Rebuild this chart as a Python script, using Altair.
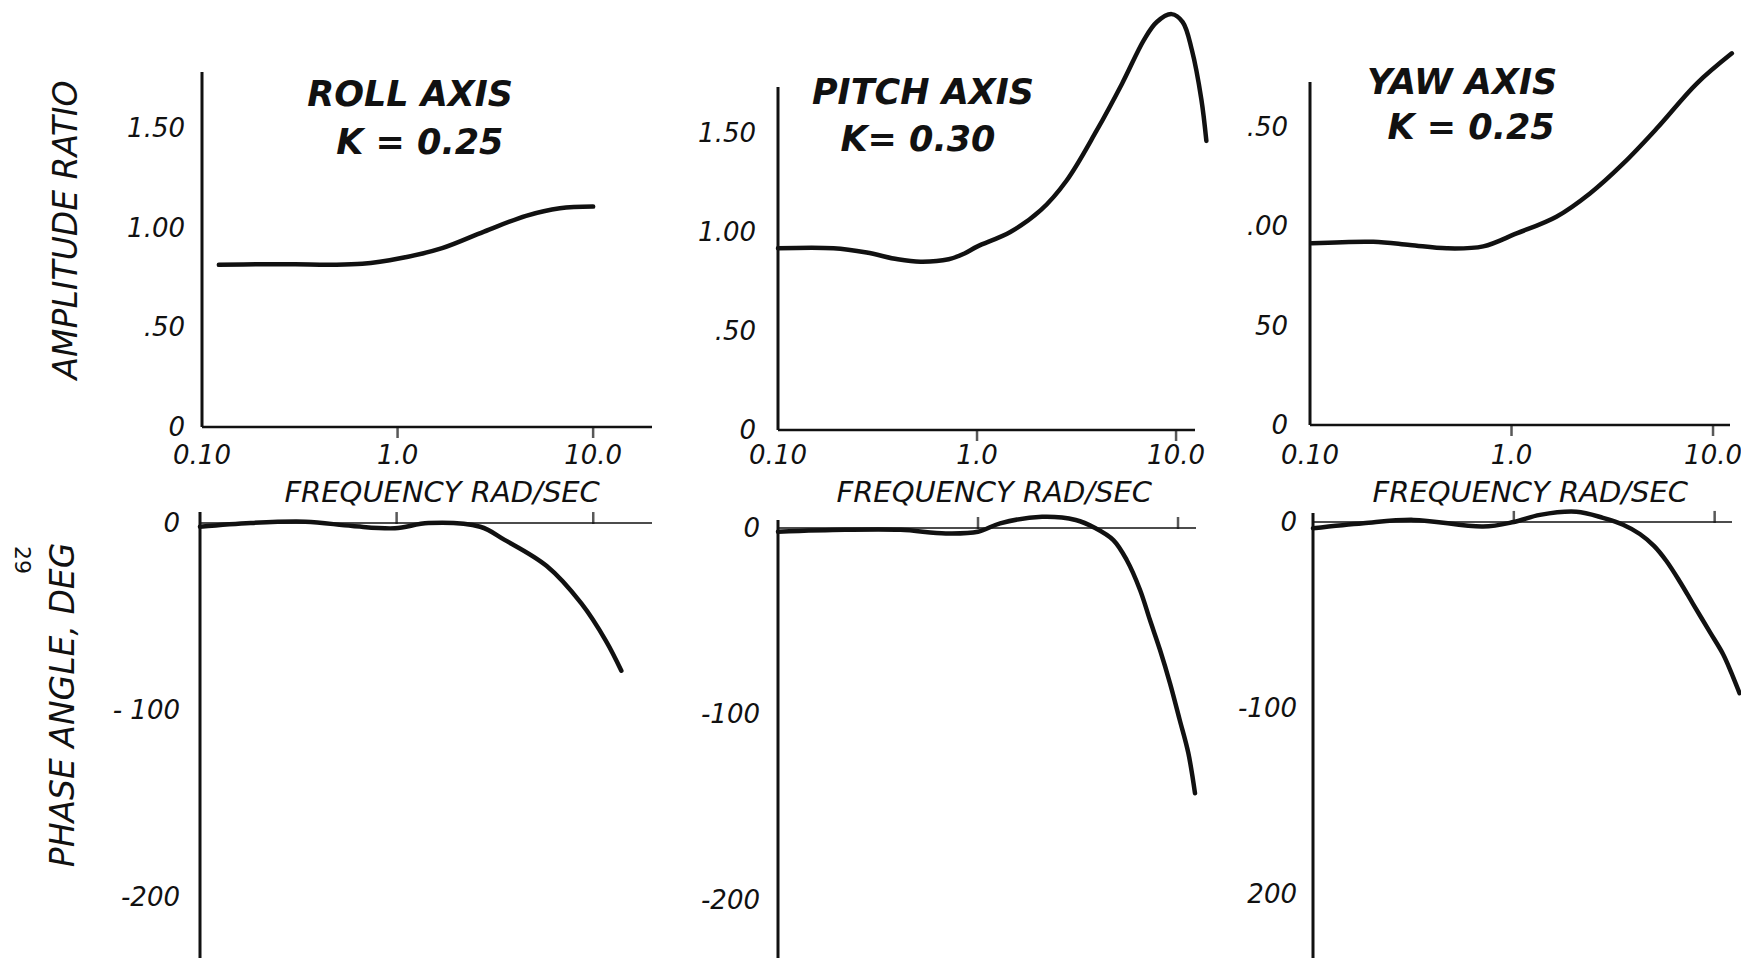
import altair as alt
import pandas as pd

INK = "#111111"
FONT = "DejaVu Sans"

# ---------------- data ----------------
# ROLL
roll_amp_freq = [0.122, 0.20, 0.30, 0.45, 0.66, 1.03, 1.69, 2.77, 4.54, 6.76, 10.0]
roll_amp = [0.813, 0.816, 0.816, 0.814, 0.818, 0.846, 0.897, 0.98, 1.059, 1.097, 1.105]
roll_ph_freq = [0.10, 0.181, 0.344, 0.596, 0.98, 1.45, 2.66, 3.54, 5.8, 8.7, 11.6, 13.9]
roll_ph = [-2, 0, 0.7, -1.6, -2.8, 0, -2, -9, -23, -43, -63, -79]

# PITCH
pitch_amp_freq = [0.10, 0.19, 0.279, 0.40, 0.52, 0.72, 0.86, 1.0, 1.47, 2.09, 2.82, 3.98, 5.36,
                  6.9, 8.0, 9.5, 10.8, 12.0, 13.4, 14.2]
pitch_amp = [0.918, 0.918, 0.896, 0.862, 0.850, 0.862, 0.89, 0.926, 1.0, 1.11, 1.26, 1.51, 1.75,
             1.97, 2.06, 2.10, 2.06, 1.92, 1.67, 1.46]
pitch_ph_freq = [0.10, 0.216, 0.41, 0.69, 1.0, 1.29, 2.09, 3.08, 3.85, 4.75, 5.54,
                 6.46, 7.24, 8.13, 9.12, 10.2, 11.26, 12.16]
pitch_ph = [-2, -1, -1, -2.9, -2, 2.5, 6, 4.3, 0, -6.5, -17.2,
            -33.3, -49.5, -65.6, -83.5, -103.2, -121, -142.6]

# YAW
yaw_amp_freq = [0.102, 0.206, 0.313, 0.477, 0.724, 1.06, 1.67, 2.45, 3.59, 5.25, 8.3, 12.4]
yaw_amp = [0.913, 0.921, 0.905, 0.888, 0.898, 0.963, 1.047, 1.164, 1.315, 1.49, 1.716, 1.868]
yaw_ph_freq = [0.10, 0.178, 0.316, 0.703, 1.0, 1.35, 2.05, 2.78, 3.5, 4.24, 5.0, 5.75,
               6.7, 7.8, 9.44, 11.0, 12.1, 13.3]
yaw_ph = [-3.4, -0.7, 1.1, -2.5, 0, 3.8, 5.5, 2.2, -1.5, -6.5, -13, -21,
          -32, -44, -59, -71, -81, -92]

# tick values and labels
freq_ticks = [0.1, 1.0, 10.0]
freq_tick_labels = ["0.10", "1.0", "10.0"]
amp_ticks = [0, 0.5, 1.0, 1.5]
roll_amp_labels = ["0", ".50", "1.00", "1.50"]
pitch_amp_labels = ["0", ".50", "1.00", "1.50"]
yaw_amp_labels = ["0", "50", ".00", ".50"]
phase_ticks = [0, -100, -200]
roll_ph_labels = ["0", "- 100", "-200"]
pitch_ph_labels = ["0", "-100", "-200"]
yaw_ph_labels = ["0", "-100", "200"]

titles = [("ROLL AXIS", "K =  0.25"), ("PITCH AXIS", "K= 0.30"), ("YAW  AXIS", "K = 0.25")]
# title anchor points, in data units (frequency, amplitude ratio)
title_pos = [((1.16, 1.666), (1.30, 1.425)),
             ((0.535, 1.70), (0.505, 1.465)),
             ((0.568, 1.718), (0.63, 1.492))]
freq_title = "FREQUENCY  RAD/SEC"
freq_title_at = [1.69, 1.22, 1.24]


def panel(xdom, xr, ydom, yr, cf, cv, tick_labels_y, ylab_dx,
          kind, xlab_dy=None, title=None, tpos=None, ftitle_f=None):
    xs = alt.Scale(type="log", domain=xdom, range=xr)
    ys = alt.Scale(domain=ydom, range=yr, nice=False, zero=False)

    def X(f="f"):
        return alt.X(f + ":Q", scale=xs, axis=None)

    def Y(f="v"):
        return alt.Y(f + ":Q", scale=ys, axis=None)

    layers = []
    # y axis line
    layers.append(
        alt.Chart(pd.DataFrame({"f": [xdom[0]], "v": [ydom[0]], "v2": [ydom[1]]}))
        .mark_rule(color=INK, strokeWidth=3)
        .encode(x=X(), y=Y(), y2="v2:Q")
    )
    # x axis (zero) line
    layers.append(
        alt.Chart(pd.DataFrame({"f": [xdom[0]], "f2": [xdom[1]], "v": [0]}))
        .mark_rule(color=INK, strokeWidth=2.5 if kind == "amp" else 1.6)
        .encode(x=X(), x2="f2:Q", y=Y())
    )
    # x ticks
    layers.append(
        alt.Chart(pd.DataFrame({"f": freq_ticks[1:], "v": [0, 0]}))
        .mark_tick(color=INK, orient="vertical", size=12, thickness=2.5,
                   yOffset=5 if kind == "amp" else -5)
        .encode(x=X(), y=Y())
    )
    # y tick labels
    yvals = amp_ticks if kind == "amp" else phase_ticks
    layers.append(
        alt.Chart(pd.DataFrame({"f": [xdom[0]] * len(yvals), "v": yvals, "label": tick_labels_y}))
        .mark_text(font=FONT, fontSize=26, fontStyle="italic", color=INK,
                   align="right", baseline="middle", dx=ylab_dx, dy=1)
        .encode(x=X(), y=Y(), text="label:N")
    )
    if kind == "amp":
        layers.append(
            alt.Chart(pd.DataFrame({"f": freq_ticks, "v": [0] * 3, "label": freq_tick_labels}))
            .mark_text(font=FONT, fontSize=26, fontStyle="italic", color=INK,
                       align="center", baseline="middle", dy=xlab_dy)
            .encode(x=X(), y=Y(), text="label:N")
        )
        layers.append(
            alt.Chart(pd.DataFrame({"f": [ftitle_f], "v": [0], "label": [freq_title]}))
            .mark_text(font=FONT, fontSize=29, fontStyle="italic", color=INK,
                       align="center", baseline="middle", dy=xlab_dy + 37)
            .encode(x=X(), y=Y(), text="label:N")
        )
        for txt, (pf, pv) in zip(title, tpos):
            layers.append(
                alt.Chart(pd.DataFrame({"f": [pf], "v": [pv], "label": [txt]}))
                .mark_text(font=FONT, fontSize=35, fontStyle="italic", fontWeight="bold",
                           color=INK, align="center", baseline="middle")
                .encode(x=X(), y=Y(), text="label:N")
            )
    # the curve
    layers.append(
        alt.Chart(pd.DataFrame({"f": cf, "v": cv}))
        .mark_line(color=INK, strokeWidth=4.5, interpolate="catmull-rom",
                   strokeCap="round", strokeJoin="round")
        .encode(x=X(), y=Y(), order="f:Q")
    )
    return alt.layer(*layers)


p_roll_amp = panel([0.1, 20], [194, 644], [0, 1.78], [419, 64], roll_amp_freq, roll_amp,
                   roll_amp_labels, -17, "amp", 29, titles[0], title_pos[0], freq_title_at[0])
p_pitch_amp = panel([0.1, 12.45], [770, 1187], [0, 1.732], [422, 79], pitch_amp_freq, pitch_amp,
                    pitch_amp_labels, -22, "amp", 26, titles[1], title_pos[1], freq_title_at[1])
p_yaw_amp = panel([0.1, 12.14], [1302, 1722], [0, 1.724], [417, 74], yaw_amp_freq, yaw_amp,
                  yaw_amp_labels, -22, "amp", 31, titles[2], title_pos[2], freq_title_at[2])
p_roll_ph = panel([0.1, 19.9], [192, 644], [-234.8, 5.9], [954, 504], roll_ph_freq, roll_ph,
                  roll_ph_labels, -20, "phase")
p_pitch_ph = panel([0.1, 12.3], [770, 1188], [-233.3, 4.3], [954, 512], pitch_ph_freq, pitch_ph,
                   pitch_ph_labels, -18, "phase")
p_yaw_ph = panel([0.1, 12.2], [1305, 1724], [-234.4, 4.8], [950, 505], yaw_ph_freq, yaw_ph,
                 yaw_ph_labels, -16, "phase")

side_labels = ["AMPLITUDE RATIO", "PHASE ANGLE, DEG"]
amp_title = alt.Chart(pd.DataFrame({"label": [side_labels[0]]})).mark_text(
    font=FONT, fontSize=33, fontStyle="italic", color=INK, angle=270,
    align="center", baseline="middle").encode(x=alt.value(59), y=alt.value(222), text="label:N")
ph_title = alt.Chart(pd.DataFrame({"label": [side_labels[1]]})).mark_text(
    font=FONT, fontSize=33, fontStyle="italic", color=INK, angle=270,
    align="center", baseline="middle").encode(x=alt.value(56), y=alt.value(697), text="label:N")
page_no = alt.Chart(pd.DataFrame({"label": ["29"]})).mark_text(
    font=FONT, fontSize=22, color=INK, angle=90, align="center", baseline="middle"
).encode(x=alt.value(14), y=alt.value(552), text="label:N")

chart = (
    alt.layer(p_roll_amp, p_pitch_amp, p_yaw_amp, p_roll_ph, p_pitch_ph, p_yaw_ph,
              amp_title, ph_title, page_no)
    .resolve_scale(x="independent", y="independent")
    .properties(width=1733, height=950, padding=0,
                autosize=alt.AutoSizeParams(type="none"), background="white")
    .configure_view(stroke=None)
)

chart.save("out.html", embed_options={"renderer": "svg", "actions": False})
